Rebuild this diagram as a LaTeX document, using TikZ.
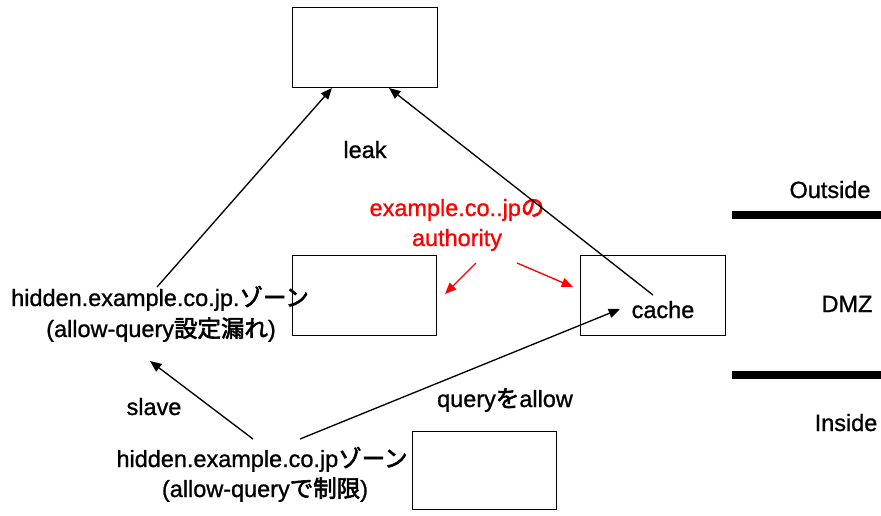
\documentclass[tikz,border=0pt]{standalone}
\usepackage{fontspec}
\setmainfont{Liberation Sans}[FakeBold=1]
\newfontfamily\jp{Noto Sans CJK JP}[FakeBold=2.5]
\usetikzlibrary{arrows.meta}
\begin{document}
\begin{tikzpicture}[x=0.75pt,y=-0.75pt,
  box/.style={draw,line width=1.1pt,inner sep=0pt,anchor=north west},
  lbl/.style={font=\fontsize{17.6}{21}\selectfont,inner sep=0pt,anchor=base},
  arr/.style={-{Triangle[length=8.5pt,width=7pt]},line width=1pt},
  redarr/.style={arr,draw=red,fill=red},
  zoneline/.style={line width=5.5pt,line cap=butt}]
\useasboundingbox (0,0) rectangle (881,515);

% boxes
\node[box,minimum width=108.75pt,minimum height=60pt] (topbox) at (292,7) {};
\node[box,minimum width=108pt,minimum height=60pt] (midbox) at (292,255) {};
\node[box,minimum width=108.75pt,minimum height=60pt] (cachebox) at (580,255) {};
\node[box,minimum width=108pt,minimum height=58.5pt] (botbox) at (412,431) {};

% zone lines
\coordinate (l1a) at (732,215);
\coordinate (l1b) at (881,215);
\coordinate (l2a) at (732,375);
\coordinate (l2b) at (881,375);
\draw[zoneline] (l1a) -- (l1b);
\draw[zoneline] (l2a) -- (l2b);

% labels
\node[lbl] (leak) at (365,158) {leak};
\node[lbl,text=red] (auth1) at (457,216) {example.co..jp{\jp の}};
\node[lbl,text=red] (auth2) at (457,246) {authority};
\node[lbl] (hz1) at (160,306) {hidden.example.co.jp.{\jp ゾーン}};
\node[lbl] (hz2) at (161,337) {(allow-query{\jp 設定漏れ})};
\node[lbl] (slave) at (154,415) {slave};
\node[lbl] (qa) at (505,407) {query{\jp を}allow};
\node[lbl] (bz1) at (262,467) {hidden.example.co.jp{\jp ゾーン}};
\node[lbl] (bz2) at (265,497) {(allow-query{\jp で制限})};
\node[lbl] (cache) at (663,318) {cache};
\node[lbl] (outside) at (830,198) {Outside};
\node[lbl] (dmz) at (847,312) {DMZ};
\node[lbl] (inside) at (846,431) {Inside};

% arrow end points
\coordinate (a1s) at (157,287);
\coordinate (a1e) at (332,88);
\coordinate (a2s) at (653,295);
\coordinate (a2e) at (389,88);
\coordinate (r1s) at (476,263);
\coordinate (r1e) at (445,294);
\coordinate (r2s) at (517,263);
\coordinate (r2e) at (573,287);
\coordinate (a3s) at (300,439);
\coordinate (a3e) at (620,309);
\coordinate (a4s) at (253,439);
\coordinate (a4e) at (150,361);

\draw[arr] (a1s) -- (a1e);
\draw[arr] (a2s) -- (a2e);
\draw[redarr] (r1s) -- (r1e);
\draw[redarr] (r2s) -- (r2e);
\draw[arr] (a3s) -- (a3e);
\draw[arr] (a4s) -- (a4e);
\end{tikzpicture}
\end{document}
